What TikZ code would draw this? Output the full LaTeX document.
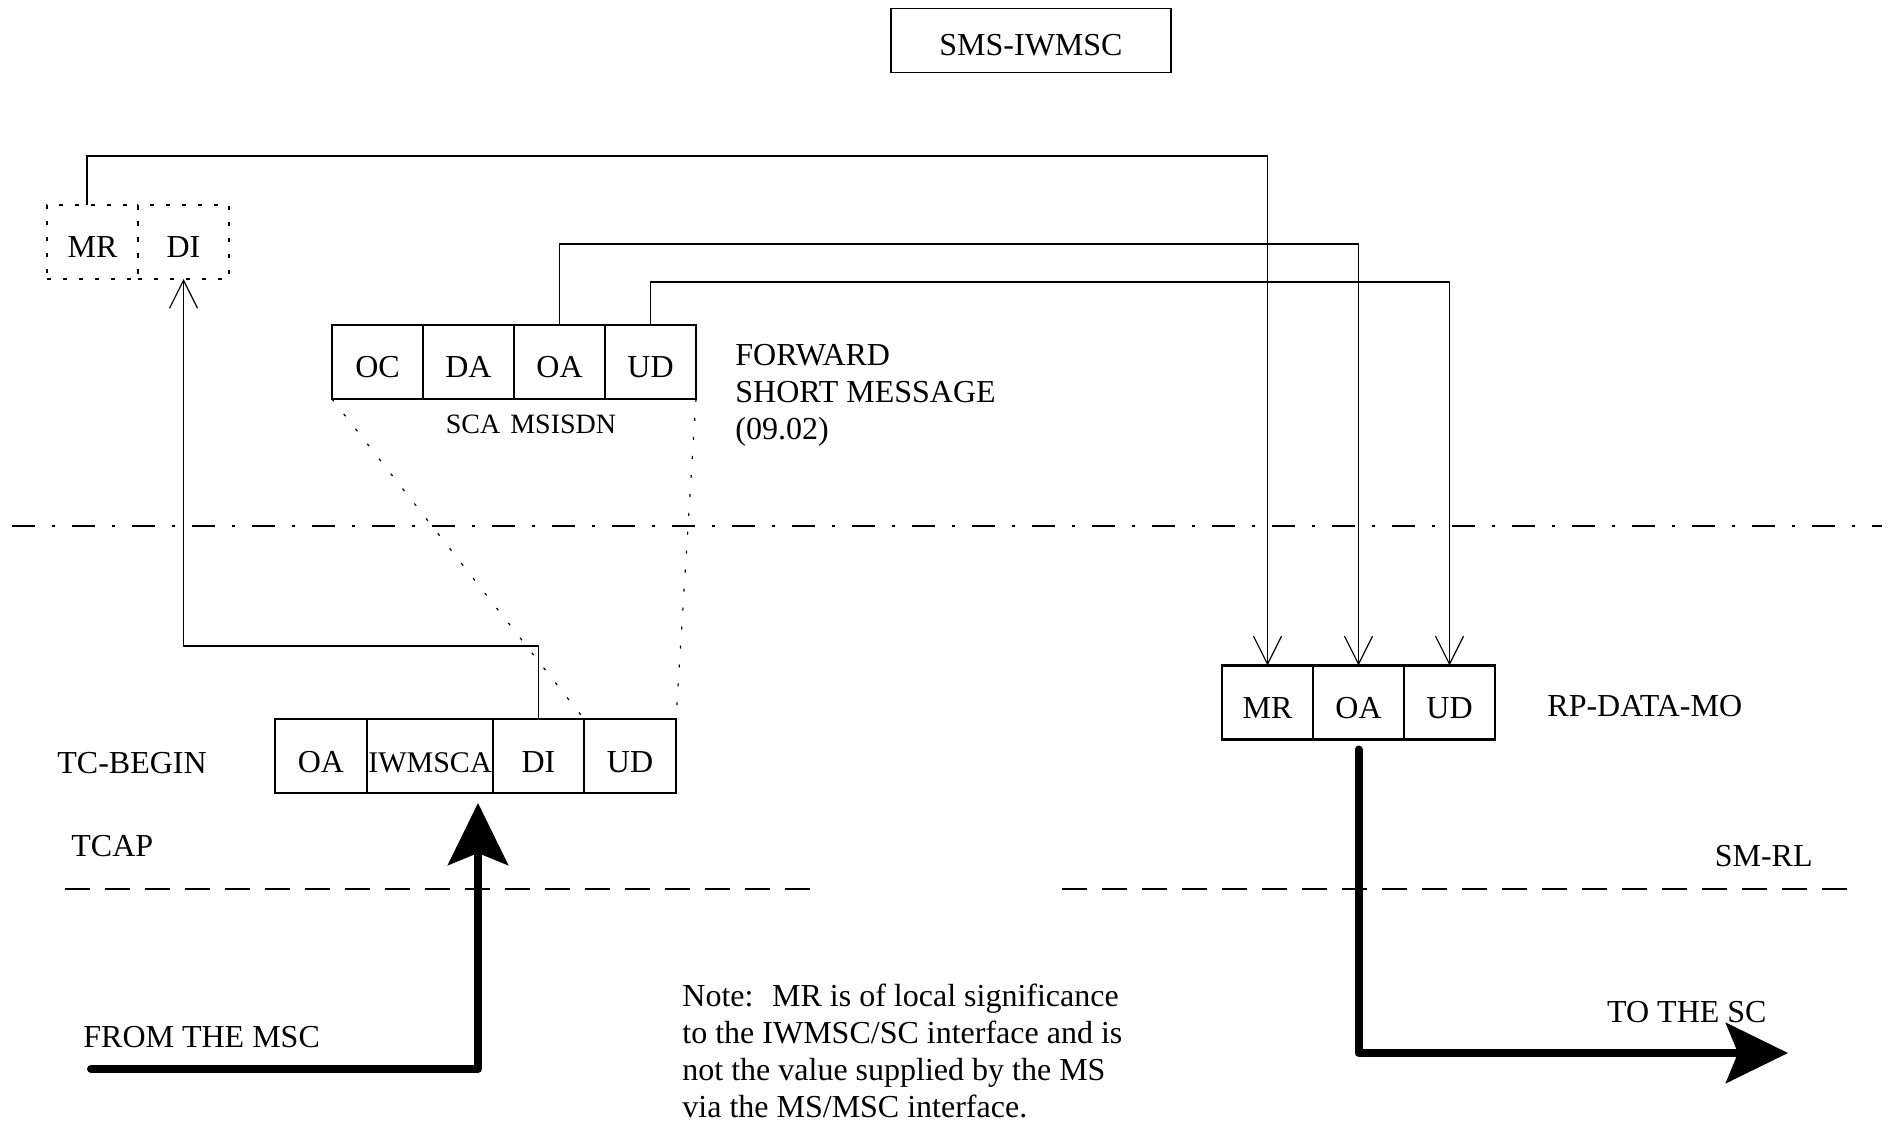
\documentclass[tikz,border=0pt]{standalone}
\usepackage{fontspec}
\setmainfont{Liberation Serif}
\usetikzlibrary{arrows.meta, positioning}
\tikzset{
  every picture/.style={line join=miter},
  % message fields (boxes of a PDU); text sits a little under the middle
  field/.style={draw, line width=1.4pt, inner sep=0pt, outer sep=0pt,
                text height=16pt, text depth=0pt,
                minimum width=45.5pt, minimum height=37pt},
  ghost/.style={draw, line width=0.6pt, dash pattern=on 2pt off 6pt,
                inner sep=0pt, outer sep=0pt, text height=16pt, text depth=0pt,
                minimum width=45.5pt, minimum height=37pt},
  lbl/.style={inner sep=0pt},
  wire/.style={line width=0.6pt},
  feed/.style={wire, -{Straight Barb[length=14pt, width=14pt]}},
  proj/.style={line width=0.6pt, dash pattern=on 1.5pt off 8pt},
  flow/.style={line width=4pt, line join=round, line cap=round,
               -{Stealth[length=31pt, width=30pt, inset=6pt]}},
  layer/.style={line width=0.6pt, dash pattern=on 12.5pt off 7.5pt},
  split/.style={line width=0.6pt, dash pattern=on 11.5pt off 8.5pt on 1.5pt off 8.5pt},
}
\begin{document}
\begin{tikzpicture}[x=0.5pt, y=-0.5pt, font=\fontsize{16}{18.5}\selectfont]
  \useasboundingbox (0,0) rectangle (1896,1123);
  % ---- header
  \node[draw, line width=0.6pt, inner sep=0pt, text height=15pt, text depth=0pt,
        minimum width=140pt, minimum height=32pt]
    (iwmsc) at (1031,40.5) {SMS-IWMSC};
  % ---- MR and DI taken from the TC-BEGIN
  \node[ghost] (gMR) at (92.5,242) {MR};
  \node[ghost, right=0pt of gMR] (gDI) {DI};
  % ---- FORWARD SHORT MESSAGE (09.02)
  \node[field] (fOC) at (377.5,362) {OC};
  \node[field, right=0pt of fOC] (fDA) {DA};
  \node[field, right=0pt of fDA] (fOA) {OA};
  \node[field, right=0pt of fOA] (fUD) {UD};
  \node[lbl, font=\fontsize{14}{16}\selectfont] (fsub) at (531,424) {SCA\hspace{5pt}MSISDN};
  \node[lbl, anchor=north west, align=left] (fname) at (735,344) {FORWARD\\SHORT MESSAGE\\(09.02)};
  % ---- TC-BEGIN
  \node[field, minimum width=46pt] (tOA) at (321,756) {OA};
  \node[field, minimum width=63pt, right=0pt of tOA, font=\fontsize{15}{18}\selectfont] (tSCA) {IWMSCA};
  \node[field, right=0pt of tSCA] (tDI) {DI};
  \node[field, minimum width=46pt, right=0pt of tDI] (tUD) {UD};
  \node[lbl, anchor=base west] (tname) at (57,773) {TC-BEGIN};
  \node[lbl, anchor=base west] (tcap) at (71,856) {TCAP};
  % ---- RP-DATA-MO
  \node[field] (rMR) at (1267.5,702.5) {MR};
  \node[field, right=0pt of rMR] (rOA) {OA};
  \node[field, right=0pt of rOA] (rUD) {UD};
  \node[lbl, anchor=base west] (rname) at (1547,716) {RP-DATA-MO};
  \node[lbl, anchor=base east] (smrl) at (1813,866) {SM-RL};
  % ---- mapping of the fields
  \draw[feed] ([xshift=-2.75pt]gMR.north) -- ++(0,-49) -| (rMR.north);
  \draw[feed] (fOA.north) -- ++(0,-81) -| (rOA.north);
  \draw[feed] (fUD.north) -- ++(0,-43) -| (rUD.north);
  \draw[feed] (tDI.north) -- ++(0,-73) -| (gDI.south);
  \draw[proj] (fOC.south west) -- (tUD.north west);
  \draw[proj] (fUD.south east) -- (tUD.north east);
  % ---- layer boundaries
  \draw[split] (12,526) -- (1882,526);
  \draw[layer] (65,889) -- (810,889);
  \draw[layer] (1062,889) -- (1848,889);
  % ---- in from the MSC, out to the SC
  \coordinate (msc) at (91,1069);
  \coordinate (mscup) at (478,803);
  \draw[flow] (msc) -| (mscup);
  \node[lbl, anchor=base west] (fromtxt) at (83,1047) {FROM THE MSC};
  \coordinate (sc) at (1788,1053);
  \draw[flow] ([yshift=-5pt]rOA.south) |- (sc);
  \node[lbl, anchor=base east] (totxt) at (1767,1022) {TO THE SC};
  % ---- note
  \node[lbl, anchor=north west, align=left] (note) at (682,984)
    {Note:~ MR is of local significance\\to the IWMSC/SC interface and is\\not the value supplied by the MS\\via the MS/MSC interface.};
\end{tikzpicture}
\end{document}
